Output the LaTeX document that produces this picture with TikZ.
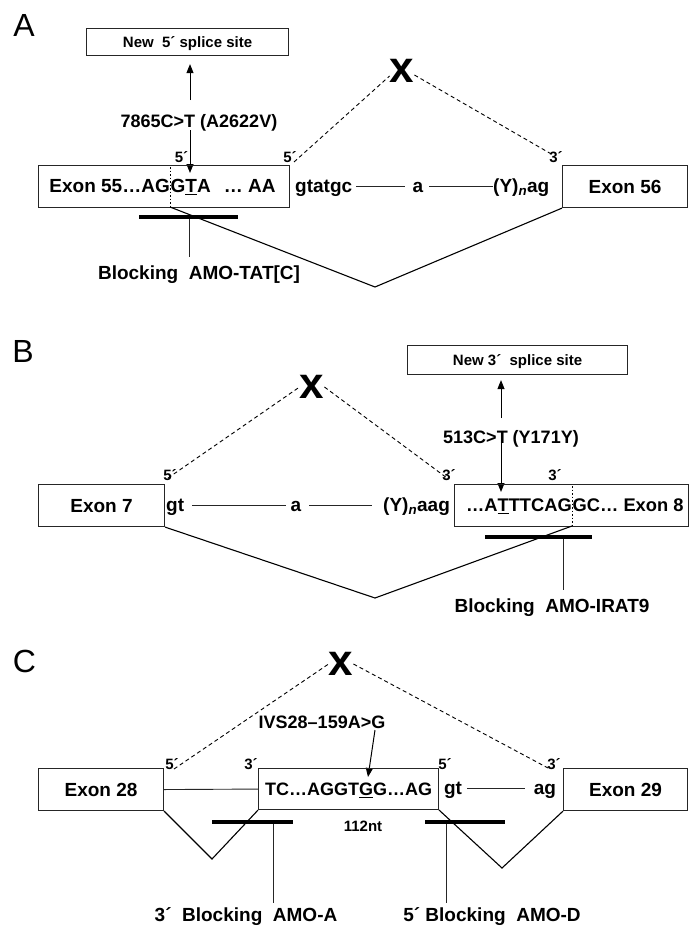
\documentclass[tikz,border=0pt]{standalone}
\usepackage{fontspec}
\setmainfont{Liberation Sans}
\usetikzlibrary{arrows.meta}
\begin{document}
\begin{tikzpicture}[x=1pt,y=-1pt,
  seq/.style={font=\fontsize{19}{22}\selectfont\bfseries, inner sep=0pt, text height=13.6pt, text depth=0pt},
  seqs/.style={font=\fontsize{18.3}{22}\selectfont\bfseries, inner sep=0pt, text height=13.1pt, text depth=0pt},
  mut/.style={font=\fontsize{18}{22}\selectfont\bfseries, inner sep=0pt, text height=12.9pt, text depth=0pt},
  exonbox/.style={seq, draw=black!85, line width=1.1pt, anchor=north west},
  newbox/.style={font=\fontsize{15}{17}\selectfont\bfseries, draw=black!85, line width=1.1pt, anchor=north west, inner sep=0pt, text height=10.7pt, text depth=0pt},
  prime/.style={font=\fontsize{15}{16}\selectfont\bfseries, inner sep=0pt},
  panel/.style={font=\fontsize{32}{34}\selectfont, inner sep=0pt, text height=23pt, text depth=0pt},
  xmark/.style={font=\fontsize{44}{46}\selectfont\bfseries, inner sep=0pt},
  dashln/.style={dash pattern=on 4pt off 3pt, line width=0.9pt},
  dotl/.style={dash pattern=on 1.5pt off 2pt, line width=0.8pt},
  thinl/.style={line width=0.9pt, draw=black!85},
  vline/.style={line width=1.1pt},
  barnode/.style={fill=black, inner sep=0pt, minimum height=4pt},
  arr/.style={-{Triangle[length=9pt,width=7pt]}, line width=1pt}
]
\useasboundingbox (0,0) rectangle (689,926);

%%%%%%%%%%%%%%%%%%%% Panel A
\node[panel] (pA) at (24,25) {A};
\node[newbox, minimum width=202pt, minimum height=27pt] (n5) at (86,28) {New\ \ 5´ splice site};
\node[mut] (mA) at (199,121.5) {7865C>T (A2622V)};
\coordinate (a1) at (190,100);
\coordinate (a2) at (190,130);
\coordinate (a3) at (190,173);
\draw[arr, shorten >=8pt] (a1) -- (n5.south -| a1);
\draw[arr] (a2) -- (a3);

\node[exonbox, minimum width=251pt, minimum height=42pt] (e55) at (38,165) {};
\node[seq, anchor=east] (e55l) at (170,186) {Exon 55…AG};
\node[seq, anchor=west] (e55r) at (170.5,186) {G\underline{T}A\hspace{13pt}…\ AA};
\coordinate (dA1) at (170,167);
\coordinate (dA2) at (170,207);
\draw[dotl] (dA1) -- (dA2);

\node[prime] (pA1) at (181.5,157) {5´};
\node[prime] (pA2) at (290,157) {5´};
\node[prime] (pA3) at (556,157) {3´};

\node[seq, anchor=west] (gA) at (295,186) {gtatgc};
\node[seq] (aA) at (418,186) {a};
\node[seq, anchor=west] (yA) at (493,186) {(Y)\textsubscript{\itshape n}ag};
\draw[thinl] ([xshift=4pt]gA.east) -- ([xshift=-8pt]aA.west);
\draw[thinl] ([xshift=6pt]aA.east) -- (yA.west);

\node[exonbox, minimum width=125pt, minimum height=42pt] (e56) at (562,165) {Exon 56};

\node[xmark] (xA) at (402,71) {x};
\coordinate (dsA) at (294,162);
\coordinate (deA) at (553,155);
\draw[dashln] (dsA) -- ([yshift=-5pt]xA.west);
\draw[dashln] ([yshift=-4pt]xA.east) -- (deA);

\coordinate (vA) at (375,287);
\draw[vline] (dA2) -- (vA) -- (e56.south west);

\node[barnode, minimum width=99pt] (bA) at (188.5,217) {};
\coordinate (tA) at (189,257);
\draw[thinl] (bA.south -| tA) -- (tA);
\node[seq] (blA) at (199,273) {Blocking\ \ AMO-TAT[C]};

%%%%%%%%%%%%%%%%%%%% Panel B
\node[panel] (pB) at (23,351) {B};
\node[xmark] (xB) at (312,387) {x};

\node[newbox, minimum width=220pt, minimum height=29pt] (n3) at (407,345) {New 3´\ \ splice site};
\node[mut] (mB) at (511,437.5) {513C>T (Y171Y)};
\coordinate (b1) at (501,418);
\coordinate (b2) at (501,443);
\coordinate (b3) at (501,492);
\draw[arr, shorten >=5pt] (b1) -- (n3.south -| b1);
\draw[arr] (b2) -- (b3);

\node[exonbox, minimum width=126pt, minimum height=42pt] (e7) at (38,484) {Exon 7};
\node[exonbox, minimum width=234pt, minimum height=42pt] (e8) at (454,484) {};
\node[seqs, anchor=east] (e8l) at (572,505) {…A\underline{T}TTCAG};
\node[seqs, anchor=west] (e8r) at (572.5,505) {GC…\ Exon 8};
\coordinate (dB1) at (572,486);
\coordinate (dB2) at (572,526);
\draw[dotl] (dB1) -- (dB2);

\node[prime] (pB1) at (170,475) {5´};
\node[prime] (pB2) at (449,475) {3´};
\node[prime] (pB3) at (555,475) {3´};

\node[seq, anchor=west] (gB) at (166,505) {gt};
\node[seq] (aB) at (296,505) {a};
\node[seq, anchor=west] (yB) at (383,505) {(Y)\textsubscript{\itshape n}aag};
\draw[thinl] ([xshift=8pt]gB.east) -- ([xshift=-5pt]aB.west);
\draw[thinl] ([xshift=8pt]aB.east) -- ([xshift=-11pt]yB.west);

\coordinate (dsB) at (168,478);
\coordinate (deB) at (447,478);
\draw[dashln] (dsB) -- (xB.west);
\draw[dashln] (xB.east) -- (deB);

\coordinate (vB) at (375,598);
\draw[vline] (e7.south east) -- (vB) -- (dB2);

\node[barnode, minimum width=107pt] (bB) at (538.5,537) {};
\coordinate (tB) at (563,590);
\draw[thinl] (bB.south -| tB) -- (tB);
\node[seq] (blB) at (552,606) {Blocking\ \ AMO-IRAT9};

%%%%%%%%%%%%%%%%%%%% Panel C
\node[panel] (pC) at (24.5,660.5) {C};
\node[xmark] (xC) at (341,664) {x};

\node[mut] (mC) at (322,722) {IVS28–159A>G};
\coordinate (c1) at (375,730);
\coordinate (c2) at (368,777);
\draw[arr] (c1) -- (c2);

\node[exonbox, minimum width=125pt, minimum height=42pt] (e28) at (38,768) {Exon 28};
\node[exonbox, font=\fontsize{18}{22}\selectfont\bfseries, minimum width=180pt, minimum height=41pt] (mid) at (258,768) {TC…AGGT\underline{G}G…AG};
\node[exonbox, minimum width=124pt, minimum height=42pt] (e29) at (563,768) {Exon 29};

\node[prime] (pC1) at (172,764) {5´};
\node[prime] (pC2) at (251,764) {3´};
\node[prime] (pC3) at (445,764) {5´};
\node[prime] (pC4) at (554,764) {3´};

\node[font=\fontsize{15}{16}\selectfont\bfseries, inner sep=0pt] (ntC) at (363,826) {112nt};

\node[seq] (gC) at (453,788) {gt};
\node[seq] (agC) at (545,788) {ag};
\draw[thinl] ([xshift=5pt]gC.east) -- ([xshift=-9pt]agC.west);
\draw[thinl] (e28.east) -- (mid.west);

\coordinate (dsC) at (174,769);
\coordinate (deC) at (548,768);
\draw[dashln] (dsC) -- (xC.west);
\draw[dashln] (xC.east) -- (deC);

\coordinate (vC1) at (212,859);
\coordinate (vC2) at (502,868);
\draw[vline] (e28.south east) -- (vC1) -- (mid.south west);
\draw[vline] (mid.south east) -- (vC2) -- (e29.south west);

\node[barnode, minimum width=81pt] (bC1) at (252.5,822) {};
\node[barnode, minimum width=80pt] (bC2) at (465,822) {};
\coordinate (tC1) at (273,903);
\coordinate (tC2) at (446,903);
\draw[thinl] (bC1.south -| tC1) -- (tC1);
\draw[thinl] (bC2.south -| tC2) -- (tC2);
\node[seq] (blC1) at (246,914.5) {3´\ \ Blocking\ \ AMO-A};
\node[seq] (blC2) at (492,914.5) {5´ Blocking\ \ AMO-D};
\end{tikzpicture}
\end{document}
